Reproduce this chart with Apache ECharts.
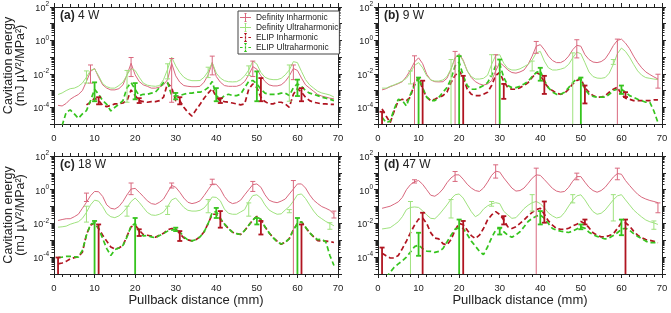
<!DOCTYPE html>
<html>
<head>
<meta charset="utf-8">
<script src="https://cdn.jsdelivr.net/npm/echarts@6/dist/echarts.min.js"></script>
<style>
html, body { margin: 0; padding: 0; background: #fff; }
#chart { width: 671px; height: 313px; }
</style>
</head>
<body>
<div id="chart"></div>
<script>
// pullback distance (mm) for every sample
var dist = [1, 2, 3, 4, 5, 6, 7, 8, 9, 10, 11, 12, 13, 14, 15, 16, 17, 18, 19, 20,
    21, 22, 23, 24, 25, 26, 27, 28, 29, 30, 31, 32, 33, 34, 35, 36, 37, 38, 39, 40,
    41, 42, 43, 44, 45, 46, 47, 48, 49, 50, 51, 52, 53, 54, 55, 56, 57, 58, 59, 60,
    61, 62, 63, 64, 65, 66, 67, 68, 69];

var seriesNames = ['Definity Inharmonic', 'Definity Ultraharmonic', 'ELIP Inharmonic', 'ELIP Ultraharmonic'];
var panelTags = ['(a)', '(b)', '(c)', '(d)'];
var panelPowers = ['4 W', '9 W', '18 W', '47 W'];

// (a) 4 W
var aDefInh = [1.3e-4, 1.2e-4, 1.7e-4, 3.0e-4, 4.3e-4, 5.8e-4, 1.0e-3, 3.5e-3, 1.4e-2, 2.1e-2,
    6.3e-3, 2.2e-3, 1.4e-3, 1.1e-3, 1.1e-3, 1.3e-3, 2.2e-3, 8.7e-3, 4.3e-2, 8.7e-3,
    3.5e-3, 2.2e-3, 1.8e-3, 1.4e-3, 1.4e-3, 1.6e-3, 2.2e-3, 4.5e-3, 4.3e-2, 7.6e-3,
    3.2e-3, 2.0e-3, 1.8e-3, 1.7e-3, 1.7e-3, 1.8e-3, 3.2e-3, 8.7e-3, 4.7e-2, 6.9e-3,
    3.2e-3, 2.0e-3, 1.8e-3, 1.8e-3, 1.8e-3, 2.2e-3, 3.5e-3, 8.7e-3, 2.7e-2, 1.9e-2,
    7.6e-3, 3.5e-3, 2.2e-3, 1.9e-3, 1.9e-3, 2.2e-3, 3.5e-3, 7.6e-3, 2.1e-2, 1.6e-2,
    5.6e-3, 2.2e-3, 1.4e-3, 9.0e-4, 5.8e-4, 4.7e-4, 4.1e-4, 3.5e-4, 3.2e-4];
var aDefUlt = [5.8e-4, 7.2e-4, 1.0e-3, 1.3e-3, 1.4e-3, 1.8e-3, 2.8e-3, 6.3e-3, 1.6e-2, 2.0e-2,
    7.6e-3, 2.6e-3, 1.7e-3, 1.4e-3, 1.4e-3, 2.0e-3, 3.2e-3, 8.7e-3, 2.1e-2, 1.6e-2,
    6.3e-3, 2.8e-3, 2.1e-3, 1.9e-3, 1.8e-3, 2.0e-3, 4.5e-3, 1.9e-2, 1.0e-1, 3.0e-2,
    1.2e-2, 6.3e-3, 4.5e-3, 3.9e-3, 3.9e-3, 4.0e-3, 6.3e-3, 1.4e-2, 4.7e-2, 1.1e-2,
    5.6e-3, 3.9e-3, 3.4e-3, 3.3e-3, 3.4e-3, 4.5e-3, 7.6e-3, 1.7e-2, 5.8e-2, 3.9e-2,
    1.2e-2, 6.3e-3, 4.9e-3, 4.5e-3, 4.5e-3, 5.4e-3, 8.7e-3, 1.7e-2, 5.4e-2, 4.7e-2,
    1.4e-2, 4.5e-3, 2.2e-3, 1.4e-3, 9.1e-4, 7.2e-4, 6.3e-4, 5.4e-4, 4.1e-4];
var aElipInh = [null, null, null, null, null, null, null, 1.4e-4, 2.0e-4, 3.5e-4,
    2.5e-4, 1.3e-4, 1.1e-4, 1.3e-4, 1.6e-4, 1.6e-4, 1.8e-4, 2.5e-4, 1.1e-3, 5.0e-4,
    2.5e-4, 2.2e-4, 2.0e-4, 2.2e-4, 2.2e-4, 2.5e-4, 4.0e-4, 2.8e-3, 1.5e-3, 2.5e-4,
    2.5e-4, 1.0e-4, 5.0e-5, 3.0e-5, 7.0e-5, 1.5e-4, 3.5e-4, 7.0e-4, 1.3e-3, 4.0e-4,
    2.5e-4, 2.2e-4, 2.0e-4, 1.8e-4, 1.6e-4, 1.4e-4, 1.6e-4, 1.2e-3, 2.5e-3, 1.5e-3,
    4.0e-4, 2.2e-4, 1.6e-4, 1.6e-4, 2.0e-4, 2.0e-4, 1.6e-4, 1.0e-4, 6.0e-4, 1.3e-3,
    8.0e-4, 4.0e-4, 2.5e-4, 2.0e-4, 1.8e-4, 1.6e-4, 1.6e-4, 1.5e-4, 1.5e-4];
var aElipUlt = [null, 8e-6, 5e-5, 7e-5, 4e-5, 2.2e-5, 4e-5, 6.3e-5, 2.5e-4, 1.2e-3,
    6e-4, 2.5e-4, 1.5e-4, 6e-5, 1e-4, 1.5e-4, 2.5e-4, 1.5e-3, 3e-3, 1.2e-3,
    5e-4, 6e-4, 6e-4, 7e-4, 8e-4, 1.5e-3, 3e-3, 3e-3, 5e-4, 4.7e-4,
    5e-4, 6e-4, 7e-4, 7e-4, 8e-4, 8e-4, 1e-3, 1.5e-3, 3.5e-3, 5e-4,
    3e-4, 5e-4, 6e-4, 5e-4, 5e-4, 6e-4, 1.5e-3, 3.5e-3, 4e-3, 2.5e-3,
    1.2e-3, 7e-4, 6e-4, 6e-4, 6e-4, 7e-4, 7e-4, 5e-4, 1.5e-3, 2.5e-3,
    1.8e-3, 1e-3, 7e-4, 6e-4, 5e-4, 4e-4, 3.5e-4, 3e-4, 2.5e-4];
// error bars: [distance, lower, upper]
var aDefInhErr = [[9, 2.8e-3, 3.4e-2], [19, 6.9e-3, 9.5e-2], [29, 2.0e-4, 8.3e-2], [39, 8.7e-3, 1.15e-1], [49, 6.9e-3, 5.8e-2], [59, 4.5e-3, 3.4e-2]];
var aDefUltErr = [[8, 2.8e-3, 1.5e-2], [18, 2.0e-4, 1.6e-2], [28, 5.0e-3, 4.0e-2], [38, 6.0e-3, 2.5e-2], [48, 8.0e-3, 3.0e-2], [58, 2.3e-4, 3.4e-2]];
var aElipInhErr = [[11, 1.5e-4, 4.0e-4], [21, 1.8e-4, 3.5e-4], [31, 1.5e-4, 4.0e-4], [41, 1.8e-4, 3.5e-4], [51, 2.3e-4, 5.6e-3], [61, 2.3e-4, 1.4e-3]];
var aElipUltErr = [[10, 2.3e-4, 3.1e-3], [20, 3.0e-4, 2.8e-3], [30, 3.0e-4, 7.2e-4], [40, 2.3e-4, 1.4e-3], [50, 2.3e-4, 1.4e-2], [60, 4.7e-4, 4.5e-3]];

// (b) 9 W
var bDefInh = [1.1e-3, 1.3e-3, 1.7e-3, 2.1e-3, 2.6e-3, 3.4e-3, 6.9e-3, 1.7e-2, 5.1e-2, 9.1e-2,
    4.1e-2, 9.5e-3, 4.3e-3, 3.4e-3, 3.3e-3, 3.4e-3, 5.4e-3, 1.9e-2, 9.1e-2, 1.6e-1,
    6.6e-2, 1.5e-2, 6.0e-3, 3.4e-3, 2.5e-3, 2.1e-3, 2.5e-3, 3.9e-3, 1.5e-2, 4.7e-2,
    3.0e-2, 1.7e-2, 1.2e-2, 1.1e-2, 1.3e-2, 1.7e-2, 3.7e-2, 1.15e-1, 4.5e-1, 5.6e-1,
    2.8e-1, 1.15e-1, 6.3e-2, 4.7e-2, 4.7e-2, 6.3e-2, 1.15e-1, 2.8e-1, 5.1e-1, 4.5e-1,
    1.4e-1, 7.2e-2, 5.1e-2, 4.7e-2, 5.4e-2, 7.9e-2, 1.8e-1, 4.9e-1, 1.0, 1.2,
    6.9e-1, 3.2e-1, 1.15e-1, 4.7e-2, 2.3e-2, 1.3e-2, 9.1e-3, 6.6e-3, 4.9e-3];
var bDefUlt = [1.4e-3, 1.4e-3, 1.8e-3, 2.2e-3, 2.8e-3, 3.7e-3, 5.4e-3, 1.2e-2, 3.2e-2, 4.7e-2,
    2.3e-2, 7.6e-3, 4.3e-3, 3.7e-3, 3.7e-3, 4.3e-3, 6.9e-3, 2.0e-2, 9.1e-2, 1.4e-1,
    5.8e-2, 1.5e-2, 6.9e-3, 4.9e-3, 4.9e-3, 5.4e-3, 8.3e-3, 3.7e-2, 1.26e-1, 1.4e-1,
    4.3e-2, 2.1e-2, 1.7e-2, 1.7e-2, 2.0e-2, 2.7e-2, 3.7e-2, 6.6e-2, 1.8e-1, 2.2e-1,
    5.8e-2, 2.3e-2, 1.7e-2, 1.7e-2, 1.9e-2, 2.3e-2, 3.7e-2, 9.1e-2, 2.0e-1, 1.6e-1,
    4.7e-2, 1.3e-2, 6.9e-3, 5.6e-3, 5.4e-3, 6.0e-3, 1.1e-2, 3.7e-2, 1.6e-1, 3.5e-1,
    2.2e-1, 1.0e-1, 3.7e-2, 1.5e-2, 8.3e-3, 6.0e-3, 5.4e-3, 4.9e-3, 4.5e-3];
var bElipInh = [8e-5, 3e-5, 1.2e-5, 6e-5, 2.5e-4, 3e-4, 2.5e-4, 4e-4, 3e-3, 6e-3,
    1.2e-3, 4e-4, 2.5e-4, 3e-4, 4e-4, 5e-4, 8e-4, 3e-3, 8e-3, 1.5e-2,
    6e-3, 1.2e-3, 6e-4, 5e-4, 5e-4, 6e-4, 8e-4, 2e-3, 8e-3, 1.2e-2,
    3.5e-3, 1.5e-3, 1.2e-3, 1.2e-3, 1.5e-3, 2e-3, 3e-3, 6e-3, 1.2e-2, 9e-3,
    3e-3, 1.5e-3, 1e-3, 7e-4, 6e-4, 7e-4, 1.2e-3, 2.5e-3, 4e-3, 5e-3,
    1.5e-3, 8e-4, 5e-4, 4e-4, 4e-4, 5e-4, 8e-4, 1.2e-3, 1.6e-3, 6e-4,
    3.5e-4, 3e-4, 2.5e-4, 2.5e-4, 2.5e-4, 2.5e-4, 2.5e-4, 2.8e-4, 2.8e-4];
var bElipUlt = [2.5e-5, 1.2e-5, 1.5e-5, 8e-5, 3e-4, 2.5e-4, 1.2e-4, 6e-4, 2e-3, 6e-3,
    1.5e-3, 4e-4, 2.5e-4, 2.5e-4, 4e-4, 8e-4, 1.5e-3, 5e-3, 3e-2, 5e-2,
    8e-3, 2e-3, 1.2e-3, 1.2e-3, 1.5e-3, 2e-3, 3e-3, 8e-3, 3e-2, 4e-2,
    6e-3, 2e-3, 1.5e-3, 1.5e-3, 1.8e-3, 2.5e-3, 3.5e-3, 7e-3, 1.2e-2, 1.5e-2,
    4e-3, 1.5e-3, 8e-4, 6e-4, 6e-4, 8e-4, 1.5e-3, 3e-3, 5e-3, 5e-3,
    1.2e-3, 6e-4, 4.5e-4, 4e-4, 4e-4, 4e-4, 6e-4, 1e-3, 1.2e-3, 1.2e-3,
    8e-4, 5e-4, 4e-4, 3e-4, 2.5e-4, 2e-4, 2e-4, 6e-5, 1.2e-5];
var bDefInhErr = [[9, 1e-7, 1.2e-1], [19, 1e-7, 2.2e-1], [29, 1e-7, 1.4e-1], [39, 1.7e-1, 8.7e-1], [49, 9e-2, 1.1], [59, 1e-7, 1.2], [69, 1.4e-3, 9.5e-3]];
var bDefUltErr = [[8, 2.5e-3, 1.5e-2], [18, 1e-7, 7.2e-2], [28, 7.6e-3, 1.4e-1], [38, 1.5e-2, 5.8e-2], [48, 1e-7, 1.8e-1], [58, 3.7e-2, 7.2e-2]];
var bElipInhErr = [[1, 1e-7, 5.4e-5], [11, 1e-7, 3.9e-3], [21, 1e-7, 7.6e-3], [31, 3.2e-4, 2.5e-3], [41, 6.3e-4, 7.6e-3], [51, 1.7e-4, 2.0e-3], [61, 4.1e-4, 8.0e-4]];
var bElipUltErr = [[10, 1e-7, 6.0e-3], [20, 1e-7, 1.15e-1], [30, 1e-7, 7.2e-2], [40, 3.9e-3, 2.3e-2], [50, 1e-7, 6.0e-3], [60, 6.3e-4, 2.0e-3]];

// (c) 18 W
var cDefInh = [1.5e-2, 1.7e-2, 1.9e-2, 1.9e-2, 2.5e-2, 3.5e-2, 7.9e-2, 1.8e-1, 4.4e-1, 7.9e-1,
    7.6e-1, 4.0e-1, 1.26e-1, 7.9e-2, 7.1e-2, 1.0e-1, 2.0e-1, 5.0e-1, 1.1, 1.2,
    7.1e-1, 4.0e-1, 2.2e-1, 1.5e-1, 1.35e-1, 1.8e-1, 2.8e-1, 7.1e-1, 1.8, 1.4,
    7.1e-1, 3.2e-1, 1.8e-1, 1.5e-1, 1.7e-1, 2.2e-1, 4.5e-1, 1.0, 2.2, 2.1,
    1.1, 4.0e-1, 2.0e-1, 1.5e-1, 1.7e-1, 2.4e-1, 5.0e-1, 1.0, 2.0, 2.2,
    1.4, 5.0e-1, 2.4e-1, 1.9e-1, 1.7e-1, 2.1e-1, 2.8e-1, 5.6e-1, 1.1, 2.2,
    2.2, 1.26, 5.0e-1, 2.4e-1, 1.5e-1, 1.0e-1, 7.9e-2, 6.0e-2, 3.5e-2];
var cDefUlt = [6.0e-3, 6.3e-3, 6.9e-3, 8.9e-3, 1.07e-2, 1.26e-2, 2.0e-2, 4.5e-2, 1.26e-1, 2.4e-1,
    2.1e-1, 1.0e-1, 3.8e-2, 2.5e-2, 2.2e-2, 2.8e-2, 4.5e-2, 8.9e-2, 2.0e-1, 3.2e-1,
    1.8e-1, 8.9e-2, 4.5e-2, 3.2e-2, 3.0e-2, 3.5e-2, 4.7e-2, 1.0e-1, 2.5e-1, 3.2e-1,
    1.7e-1, 8.9e-2, 6.0e-2, 5.4e-2, 5.4e-2, 6.0e-2, 8.3e-2, 1.6e-1, 3.7e-1, 3.5e-1,
    2.2e-1, 7.1e-2, 4.0e-2, 3.5e-2, 3.5e-2, 4.8e-2, 6.6e-2, 2.0e-1, 4.5e-1, 5.0e-1,
    3.2e-1, 1.26e-1, 6.3e-2, 4.5e-2, 3.5e-2, 3.7e-2, 6.3e-2, 1.0e-1, 2.1e-1, 5.0e-1,
    5.6e-1, 3.0e-1, 1.26e-1, 5.4e-2, 2.8e-2, 1.9e-2, 1.3e-2, 1.0e-2, 7.2e-3];
var cElipInh = [4.0e-5, 4.5e-5, 5.6e-5, 7.9e-5, 9.3e-5, 1.07e-4, 2.0e-4, 2.2e-3, 7.9e-3, 1.05e-2,
    5.0e-3, 2.0e-3, 8.9e-4, 4.0e-4, 3.0e-4, 3.5e-4, 5.0e-4, 1.8e-3, 6.3e-3, 7.9e-3,
    4.0e-3, 2.2e-3, 2.0e-3, 1.8e-3, 1.5e-3, 2.0e-3, 2.6e-3, 4.2e-3, 5.0e-3, 4.7e-3,
    2.5e-3, 1.4e-3, 1.05e-3, 9.3e-4, 1.1e-3, 1.6e-3, 3.2e-3, 1.0e-2, 3.5e-2, 3.5e-2,
    1.8e-2, 9.3e-3, 5.0e-3, 3.0e-3, 2.5e-3, 2.2e-3, 3.8e-3, 7.9e-3, 1.6e-2, 2.6e-2,
    1.7e-2, 6.3e-3, 2.8e-3, 1.45e-3, 8.9e-4, 5.8e-4, 7.6e-4, 1.26e-3, 4.0e-3, 1.0e-2,
    1.26e-2, 6.0e-3, 2.8e-3, 1.6e-3, 9.5e-4, 9.1e-4, 8.9e-4, 8.3e-4, 7.4e-4];
var cElipUlt = [9.5e-5, 1.0e-4, 1.1e-4, 1.1e-4, 1.05e-4, 1.0e-4, 2.5e-4, 2.0e-3, 8.9e-3, 1.1e-2,
    5.0e-3, 1.26e-3, 3.2e-4, 1.26e-4, 2.8e-4, 3.5e-4, 5.0e-4, 1.6e-3, 7.1e-3, 1.0e-2,
    3.2e-3, 1.8e-3, 1.9e-3, 1.6e-3, 1.4e-3, 1.9e-3, 2.5e-3, 3.5e-3, 4.0e-3, 4.5e-3,
    3.2e-3, 1.6e-3, 1.05e-3, 9.3e-4, 1.1e-3, 1.6e-3, 3.2e-3, 1.0e-2, 4.5e-2, 5.0e-2,
    2.0e-2, 9.3e-3, 5.0e-3, 3.0e-3, 2.5e-3, 2.2e-3, 3.8e-3, 7.9e-3, 1.6e-2, 2.6e-2,
    1.7e-2, 6.3e-3, 2.8e-3, 1.45e-3, 8.0e-4, 6.0e-4, 7.6e-4, 1.26e-3, 4.0e-3, 1.0e-2,
    1.26e-2, 6.0e-3, 2.8e-3, 1.6e-3, 1.1e-3, 1.15e-3, 8.0e-4, 1.26e-4, 3.2e-5];
var cDefInhErr = [[8, 2.0e-1, 6.3e-1], [19, 5.1e-1, 2.5], [29, 1.26, 2.5], [39, 2.0, 4.2], [49, 7.9e-1, 3.1], [59, 1e-7, 3.5], [69, 2.1e-2, 5.4e-2]];
var cDefUltErr = [[8, 1.2e-2, 1.05e-1], [18, 2.7e-2, 1.05e-1], [28, 3.4e-2, 1.05e-1], [38, 4.3e-2, 2.6e-1], [48, 2.7e-2, 1.65e-1], [58, 4.3e-2, 6.6e-2], [68, 4.5e-3, 1.1e-2]];
var cElipInhErr = [[1, 1e-7, 9.5e-5], [11, 1e-7, 8.7e-3], [21, 1.8e-3, 4.5e-3], [31, 9.1e-4, 3.5e-3], [41, 5.6e-3, 5.4e-2], [51, 2.2e-3, 1.4e-2], [61, 1e-7, 8.7e-3]];
var cElipUltErr = [[10, 1e-7, 1.4e-2], [20, 1e-7, 2.1e-2], [30, 3.5e-3, 5.6e-3], [40, 2.1e-2, 8.3e-2], [50, 8.7e-3, 2.1e-2], [60, 1e-7, 2.1e-2]];

// (d) 47 W
var dDefInh = [7.9e-2, 9.1e-2, 1.05e-1, 1.4e-1, 1.9e-1, 3.5e-1, 1.0, 2.0, 3.0, 3.5,
    2.1, 1.0, 4.7e-1, 4.1e-1, 6.0e-1, 1.1, 2.6, 5.0, 7.6, 7.6,
    4.2, 2.1, 1.26, 8.9e-1, 7.9e-1, 1.26, 2.8, 7.1, 12.6, 11.2,
    5.0, 2.5, 1.26, 8.3e-1, 8.9e-1, 1.26, 2.4, 4.8, 7.6, 7.1,
    4.0, 2.2, 1.2, 8.3e-1, 7.2e-1, 7.9e-1, 1.4, 3.2, 6.0, 6.0,
    2.8, 1.4, 8.9e-1, 7.1e-1, 8.9e-1, 1.4, 2.8, 5.6, 9.1, 8.3,
    3.5, 1.8, 9.5e-1, 5.4e-1, 3.6e-1, 2.8e-1, 2.3e-1, 2.0e-1, 1.7e-1];
var dDefUlt = [4.7e-3, 5.1e-3, 5.6e-3, 8.3e-3, 1.26e-2, 2.5e-2, 6.6e-2, 8.9e-2, 9.5e-2, 8.9e-2,
    5.6e-2, 3.2e-2, 2.0e-2, 1.9e-2, 3.2e-2, 6.3e-2, 1.26e-1, 2.8e-1, 5.0e-1, 5.6e-1,
    3.2e-1, 1.26e-1, 5.0e-2, 2.5e-2, 3.5e-2, 7.1e-2, 1.1e-1, 1.45e-1, 1.7e-1, 1.5e-1,
    5.2e-2, 3.2e-2, 2.0e-2, 2.2e-2, 4.0e-2, 7.6e-2, 1.2e-1, 1.7e-1, 2.0e-1, 1.5e-1,
    8.5e-2, 4.2e-2, 2.8e-2, 2.1e-2, 2.4e-2, 4.5e-2, 1.07e-1, 2.4e-1, 4.3e-1, 5.0e-1,
    2.5e-1, 1.05e-1, 5.0e-2, 3.5e-2, 4.0e-2, 6.3e-2, 1.26e-1, 2.5e-1, 4.3e-1, 5.1e-1,
    2.5e-1, 1.26e-1, 6.3e-2, 3.8e-2, 2.4e-2, 1.6e-2, 1.26e-2, 1.07e-2, 8.7e-3];
var dElipInh = [1.7e-4, 1.2e-4, 8.9e-5, 8.9e-5, 1.26e-4, 3.2e-4, 8.9e-4, 2.8e-3, 7.9e-3, 1.8e-2,
    2.1e-2, 1.0e-2, 2.8e-3, 1.35e-3, 1.2e-3, 6.3e-4, 5.2e-4, 1.1e-3, 4.0e-3, 1.0e-2,
    8.3e-3, 4.0e-3, 1.9e-3, 1.26e-3, 2.0e-3, 5.0e-3, 1.6e-2, 3.2e-2, 5.0e-2, 3.4e-2,
    1.6e-2, 6.3e-3, 5.0e-3, 6.3e-3, 1.0e-2, 1.6e-2, 2.8e-2, 4.5e-2, 6.6e-2, 7.9e-2,
    3.5e-2, 1.4e-2, 7.9e-3, 5.0e-3, 4.5e-3, 4.5e-3, 5.2e-3, 7.1e-3, 8.9e-3, 1.3e-2,
    1.0e-2, 5.6e-3, 2.8e-3, 2.0e-3, 1.6e-3, 1.6e-3, 1.9e-3, 2.4e-3, 5.0e-3, 1.1e-2,
    1.1e-2, 6.9e-3, 3.5e-3, 2.0e-3, 1.4e-3, 1.1e-3, 1.0e-3, 8.7e-4, 7.2e-4];
var dElipUlt = [null, 6.3e-6, 1.26e-5, 2.5e-5, 4.0e-5, 6.0e-5, 1.0e-4, 2.0e-4, 4.2e-4, 5.2e-4,
    3.2e-4, 2.3e-4, 2.2e-4, 1.9e-4, 2.2e-4, 3.2e-4, 7.9e-4, 2.0e-3, 4.6e-3, 5.5e-3,
    5.0e-3, 2.2e-3, 8.9e-4, 4.5e-4, 2.2e-4, 1.4e-4, 4.0e-4, 1.4e-3, 4.0e-3, 5.6e-3,
    3.2e-3, 2.0e-3, 1.5e-3, 2.1e-3, 3.2e-3, 6.3e-3, 1.3e-2, 2.0e-2, 2.7e-2, 3.2e-2,
    2.0e-2, 1.0e-2, 5.0e-3, 4.0e-3, 3.5e-3, 3.2e-3, 2.9e-3, 3.5e-3, 4.7e-3, 6.3e-3,
    5.2e-3, 3.0e-3, 2.2e-3, 1.7e-3, 1.4e-3, 1.2e-3, 1.4e-3, 1.9e-3, 2.8e-3, 4.5e-3,
    5.2e-3, 4.0e-3, 2.5e-3, 1.7e-3, 1.26e-3, 8.9e-4, 7.2e-4, 7.2e-4, 7.2e-4];
var dDefInhErr = [[9, 2.5, 3.9], [19, 3.1, 12], [29, 4.9, 30], [39, 1e-7, 19], [49, 3.9, 9.6], [59, 3.9, 19], [69, 4.3e-2, 1.65e-1]];
var dDefUltErr = [[8, 1e-7, 2.0e-1], [18, 2.1e-2, 2.6e-1], [28, 1.05e-1, 2.0e-1], [38, 5.4e-2, 5.1e-1], [48, 1.65e-1, 5.1e-1], [58, 1.4e-2, 5.1e-1], [68, 4.5e-3, 1.4e-2]];
var dElipInhErr = [[1, 1e-7, 3.7e-4], [11, 1e-7, 4.3e-2], [21, 1e-7, 1.4e-2], [31, 8.7e-3, 2.7e-2], [41, 1.1e-2, 2.0e-1], [51, 8.7e-3, 1.7e-2], [61, 1e-7, 1.7e-2]];
var dElipUltErr = [[10, 1.2e-4, 2.8e-3], [20, 1e-7, 1.7e-2], [30, 2.2e-3, 5.6e-3], [40, 8.7e-3, 5.4e-2], [50, 4.5e-3, 8.7e-3], [60, 2.0e-3, 1.7e-2]];

var panels = [
    {lines: [aDefInh, aDefUlt, aElipInh, aElipUlt], errs: [aDefInhErr, aDefUltErr, aElipInhErr, aElipUltErr]},
    {lines: [bDefInh, bDefUlt, bElipInh, bElipUlt], errs: [bDefInhErr, bDefUltErr, bElipInhErr, bElipUltErr]},
    {lines: [cDefInh, cDefUlt, cElipInh, cElipUlt], errs: [cDefInhErr, cDefUltErr, cElipInhErr, cElipUltErr]},
    {lines: [dDefInh, dDefUlt, dElipInh, dElipUlt], errs: [dDefInhErr, dDefUltErr, dElipInhErr, dElipUltErr]}
];

var colors = ['#d9687e', '#9fe27e', '#b01420', '#36c41e'];
var dashed = [false, false, true, true];
var lineWidths = [1, 1, 1.7, 1.7];
var barWidths = [1, 1, 1.8, 1.8];
var ink = '#222';
var fontFamily = 'Liberation Sans, Arial, sans-serif';

// plot rectangles in px
var grids = [
    {left: 54, top: 7, width: 284, height: 117},
    {left: 378, top: 7, width: 284, height: 117},
    {left: 54, top: 156, width: 284, height: 118},
    {left: 378, top: 156, width: 284, height: 118}
];

function pairs(ys) {
    return dist.map(function (x, k) { return [x, ys[k]]; });
}

function errBar(color, width) {
    return function (params, api) {
        var x = api.value(0);
        var lo = api.coord([x, api.value(1)]);
        var hi = api.coord([x, api.value(2)]);
        var st = {stroke: color, lineWidth: width, fill: null};
        var cap = 2.5;
        return {
            type: 'group',
            children: [
                {type: 'line', shape: {x1: lo[0], y1: lo[1], x2: hi[0], y2: hi[1]}, style: st},
                {type: 'line', shape: {x1: hi[0] - cap, y1: hi[1], x2: hi[0] + cap, y2: hi[1]}, style: st},
                {type: 'line', shape: {x1: lo[0] - cap, y1: lo[1], x2: lo[0] + cap, y2: lo[1]}, style: st}
            ]
        };
    };
}

function logLabel(v) {
    var e = Math.round(Math.log10(v));
    if (e % 2 !== 0) return '';
    return '{b|10}{s|' + e + '}';
}

var axisLineStyle = {color: ink, width: 1};
var xAxis = [], yAxis = [], series = [], graphic = [];

grids.forEach(function (g, i) {
    var bottomRow = i >= 2;
    var leftCol = i % 2 === 0;
    var xBase = {
        gridIndex: i, type: 'value', min: 0, max: 70, interval: 10,
        axisLine: {show: true, onZero: false, lineStyle: axisLineStyle},
        axisTick: {show: true, inside: false, length: 4, lineStyle: axisLineStyle},
        minorTick: {show: true, splitNumber: 5, length: 3, lineStyle: axisLineStyle},
        splitLine: {show: false}
    };
    xAxis.push(Object.assign({}, xBase, {
        position: 'bottom',
        axisLabel: {fontSize: 9.5, color: ink, margin: 9, fontFamily: fontFamily},
        name: bottomRow ? 'Pullback distance (mm)' : '',
        nameLocation: 'middle', nameGap: 14,
        nameTextStyle: {fontSize: 13, color: ink, fontFamily: fontFamily}
    }));
    xAxis.push(Object.assign({}, xBase, {position: 'top', axisLabel: {show: false}}));

    var yBase = {
        gridIndex: i, type: 'log', logBase: 10, min: 1e-5, max: 1e2, interval: 1,
        axisLine: {show: true, onZero: false, lineStyle: axisLineStyle},
        axisTick: {show: true, inside: false, length: 4, lineStyle: axisLineStyle},
        minorTick: {show: true, splitNumber: 9, length: 2.5, lineStyle: axisLineStyle},
        splitLine: {show: false}
    };
    yAxis.push(Object.assign({}, yBase, {
        position: 'left',
        axisLabel: {
            formatter: logLabel, margin: 5, color: ink, fontFamily: fontFamily,
            rich: {
                b: {fontSize: 9, color: ink, lineHeight: 12, verticalAlign: 'bottom', fontFamily: fontFamily},
                s: {fontSize: 6.5, color: ink, lineHeight: 7, verticalAlign: 'top', fontFamily: fontFamily}
            }
        },
        name: leftCol ? 'Cavitation energy\n(mJ µV²/MPa²)' : '',
        nameLocation: 'middle', nameGap: 27,
        nameTextStyle: {fontSize: 12.5, lineHeight: 12.5, color: ink, fontFamily: fontFamily}
    }));
    yAxis.push(Object.assign({}, yBase, {position: 'right', axisLabel: {show: false}}));

    var p = panels[i];
    for (var s = 0; s < 4; s++) {
        series.push({
            name: seriesNames[s], type: 'line', xAxisIndex: 2 * i, yAxisIndex: 2 * i,
            data: pairs(p.lines[s]), showSymbol: false, symbol: 'none', connectNulls: false,
            itemStyle: {color: colors[s]},
            lineStyle: {color: colors[s], width: lineWidths[s], type: dashed[s] ? [5, 3] : 'solid'},
            z: 2 + s
        });
    }
    for (s = 0; s < 4; s++) {
        series.push({
            name: seriesNames[s], type: 'custom', xAxisIndex: 2 * i, yAxisIndex: 2 * i,
            data: p.errs[s], encode: {x: 0, y: [1, 2]}, clip: true,
            itemStyle: {color: colors[s]},
            renderItem: errBar(colors[s], barWidths[s]), z: 6 + s
        });
    }

    graphic.push({
        type: 'text', left: g.left + 6, top: g.top + 3, z: 100,
        style: {
            text: '{t|' + panelTags[i] + '} ' + panelPowers[i],
            fontSize: 12, fill: ink, fontFamily: fontFamily,
            rich: {t: {fontSize: 12, fontWeight: 'bold', fill: ink, fontFamily: fontFamily}}
        }
    });
});

var iconSolid = 'path://M0,4H11V5H0Z M5,0H6V9H5Z M4,0H7V0.6H4Z M4,8.4H7V9H4Z';
var iconDash = 'path://M0,4H2.6V5H0Z M8.4,4H11V5H8.4Z M4.9,0H6.1V2.4H4.9Z M4.9,3.3H6.1V5.7H4.9Z M4.9,6.6H6.1V9H4.9Z M4,0H7V0.7H4Z M4,8.3H7V9H4Z';
var legendIcons = [iconSolid, iconSolid, iconDash, iconDash];

var chart = echarts.init(document.getElementById('chart'), null, {renderer: 'canvas'});
chart.setOption({
    animation: false,
    backgroundColor: '#fff',
    textStyle: {fontFamily: fontFamily},
    grid: grids.map(function (g) { return Object.assign({containLabel: false}, g); }),
    legend: {
        left: 238, top: 11, orient: 'vertical',
        itemWidth: 11, itemHeight: 9, itemGap: 1,
        padding: [2, 1, 2, 2],
        borderColor: '#444', borderWidth: 1, backgroundColor: '#fff',
        textStyle: {fontSize: 8.4, lineHeight: 9, color: ink, fontFamily: fontFamily},
        data: seriesNames.map(function (n, k) {
            return {name: n, icon: legendIcons[k], itemStyle: {color: colors[k], borderWidth: 0}};
        })
    },
    xAxis: xAxis,
    yAxis: yAxis,
    series: series,
    graphic: graphic
});
</script>
</body>
</html>
